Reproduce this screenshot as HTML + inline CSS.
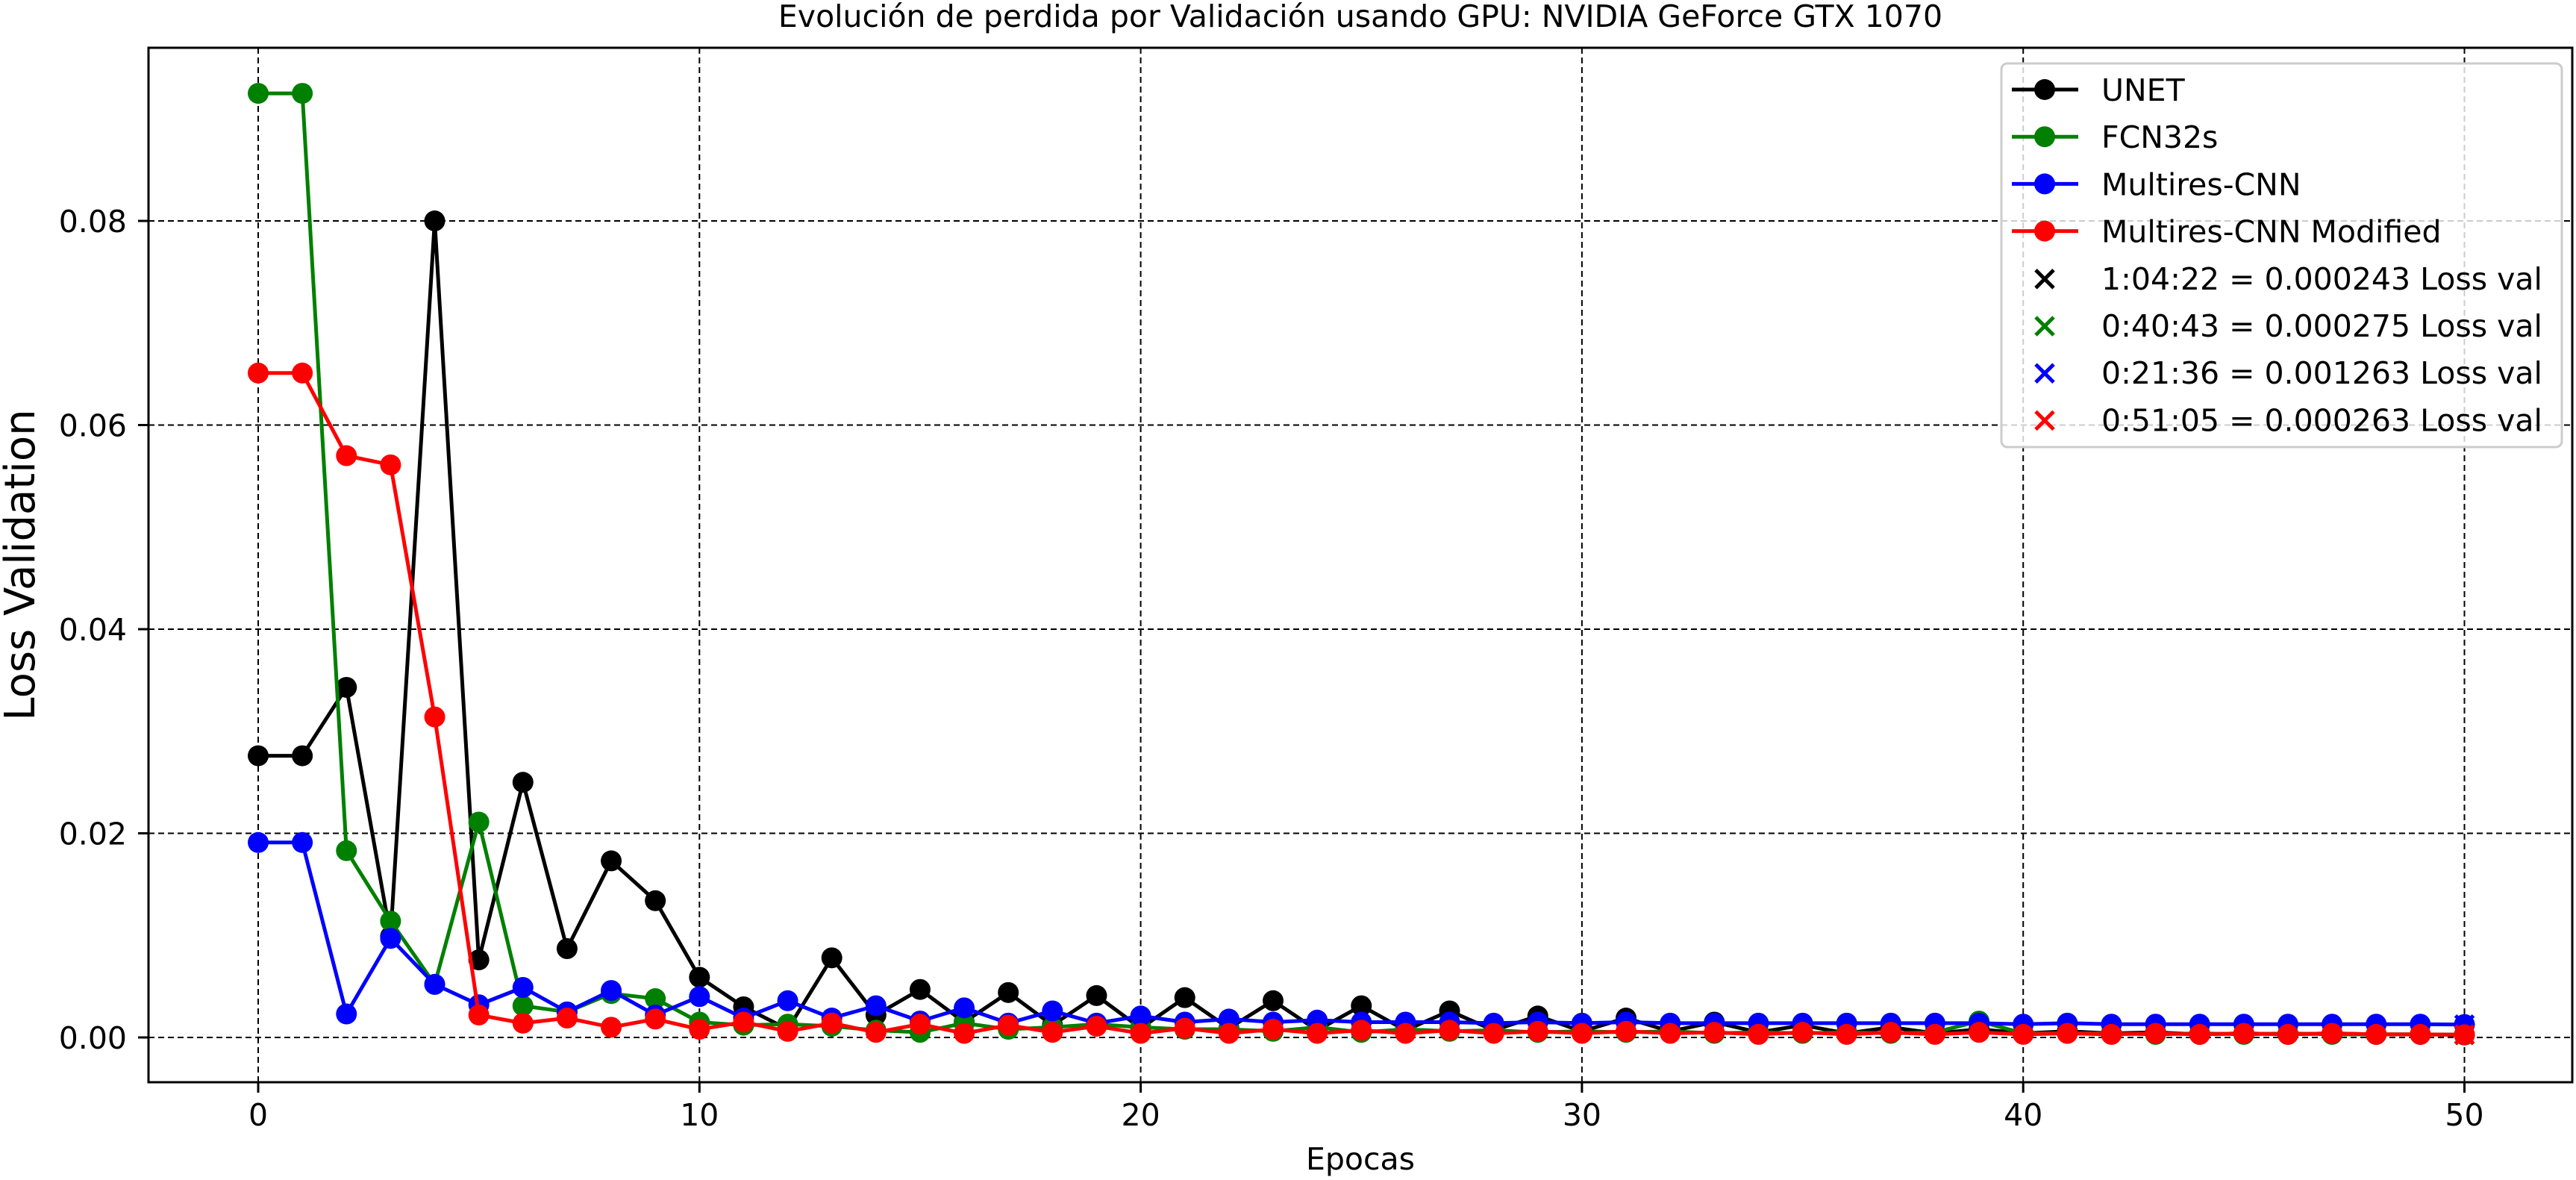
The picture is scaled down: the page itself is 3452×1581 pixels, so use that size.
<!DOCTYPE html>
<html><head><meta charset="utf-8"><style>
html,body{margin:0;padding:0;background:#fff;}
svg{display:block;font-family:"DejaVu Sans","Liberation Sans",sans-serif;}
</style></head><body>
<svg id="chart" width="3452" height="1581" viewBox="0 0 3452 1581" xmlns="http://www.w3.org/2000/svg">
<rect x="0" y="0" width="3452" height="1581" fill="#fff"/>
<text x="1823" y="36" font-size="41" text-anchor="middle">Evolución de perdida por Validación usando GPU: NVIDIA GeForce GTX 1070</text>
<g id="grid"></g><g id="series"></g>
<rect x="199" y="64" width="3248" height="1386" fill="none" stroke="#000" stroke-width="3"/>
<g id="ticks"></g>
<text x="1823" y="1567" font-size="41" text-anchor="middle">Epocas</text>
<text transform="translate(46,757) rotate(-90)" font-size="56" text-anchor="middle">Loss Validation</text>
<g id="legend"></g>
</svg>
<script>
const epochs = Array.from({length:51},(_,i)=>i);
const unet = [0.0276,0.0276,0.0343,0.0099,0.0800,0.0076,0.0250,0.0087,0.0173,0.0134,0.0059,0.0030,0.0008,0.0078,0.0022,0.0047,0.0015,0.0044,0.0012,0.0041,0.0009,0.0039,0.0009,0.0036,0.0007,0.0031,0.0007,0.0026,0.0007,0.0021,0.0006,0.0019,0.0006,0.0015,0.0005,0.0012,0.0004,0.0010,0.0004,0.0008,0.0004,0.0006,0.0004,0.0005,0.0003,0.0004,0.0003,0.0004,0.0003,0.0003,0.000243];
const fcn = [0.0925,0.0925,0.0183,0.0114,0.0052,0.0211,0.0031,0.0025,0.0043,0.0038,0.0015,0.0012,0.0013,0.0011,0.0007,0.0005,0.0014,0.0008,0.0010,0.0013,0.0010,0.0008,0.0008,0.0006,0.0010,0.0005,0.0008,0.0006,0.0007,0.0005,0.0006,0.0005,0.0006,0.0004,0.0005,0.0004,0.0005,0.0004,0.0005,0.0016,0.0004,0.0004,0.0004,0.0003,0.0004,0.0003,0.0004,0.0003,0.0003,0.0003,0.000275];
const multires = [0.0191,0.0191,0.0023,0.0097,0.0052,0.0032,0.0049,0.0025,0.0046,0.0022,0.0040,0.0019,0.0036,0.0019,0.0031,0.0016,0.0029,0.0014,0.0026,0.0014,0.0021,0.0015,0.0018,0.0015,0.0017,0.0015,0.0015,0.0015,0.0014,0.0015,0.0014,0.0015,0.0014,0.0014,0.0014,0.0014,0.0014,0.0014,0.0014,0.0014,0.0013,0.0014,0.0013,0.0013,0.0013,0.0013,0.0013,0.0013,0.0013,0.0013,0.001263];
const multiresMod = [0.0651,0.0651,0.0570,0.0561,0.0314,0.0022,0.0014,0.0019,0.0010,0.0018,0.0008,0.0015,0.0006,0.0014,0.0005,0.0013,0.0004,0.0012,0.0005,0.0011,0.0004,0.0009,0.0004,0.0008,0.0004,0.0007,0.0004,0.0007,0.0004,0.0006,0.0004,0.0006,0.0004,0.0005,0.0003,0.0005,0.0003,0.0005,0.0003,0.0005,0.0003,0.0004,0.0003,0.0004,0.0003,0.0004,0.0003,0.0004,0.0003,0.0003,0.000263];
const xTicks = [0,10,20,30,40,50];
const yTicks = [0,0.02,0.04,0.06,0.08];
const yTickLabels = ["0.00","0.02","0.04","0.06","0.08"];
const legendLabels = ["UNET","FCN32s","Multires-CNN","Multires-CNN Modified","1:04:22 = 0.000243 Loss val","0:40:43 = 0.000275 Loss val","0:21:36 = 0.001263 Loss val","0:51:05 = 0.000263 Loss val"];

const NS="http://www.w3.org/2000/svg";
const X0=199,X1=3447,Y0=64,Y1=1450;
const xs=v=>346+v*59.13;
const ys=v=>1390-v*13675;
function mk(tag,attrs,parent){const e=document.createElementNS(NS,tag);for(const k in attrs)e.setAttribute(k,attrs[k]);parent.appendChild(e);return e;}
const grid=document.getElementById('grid'),ticks=document.getElementById('ticks'),ser=document.getElementById('series'),leg=document.getElementById('legend');
xTicks.forEach(t=>{const x=xs(t);
 let g=mk('line',{x1:x,x2:x,y1:Y0,y2:Y1,stroke:'#000','stroke-width':2,'stroke-dasharray':'8,5'},grid);
 
 let k=mk('line',{x1:x,x2:x,y1:Y1,y2:Y1+14,stroke:'#000','stroke-width':3},ticks);
 
 let l=mk('text',{x:x,y:1508,'font-size':41,'text-anchor':'middle'},ticks);l.textContent=t;
 });
yTicks.forEach((t,i)=>{const y=ys(t);
 let g=mk('line',{x1:X0,x2:X1,y1:y,y2:y,stroke:'#000','stroke-width':2,'stroke-dasharray':'8,5'},grid);
 
 let k=mk('line',{x1:X0-14,x2:X0,y1:y,y2:y,stroke:'#000','stroke-width':3},ticks);
 
 let l=mk('text',{x:170,y:y+15,'font-size':41,'text-anchor':'end'},ticks);l.textContent=yTickLabels[i];
 });
const seriesList=[[unet,'#000','unet'],[fcn,'#008000','fcn32s'],[multires,'#0000ff','multires-cnn'],[multiresMod,'#ff0000','multires-cnn-modified']];
seriesList.forEach(([d,c,n])=>{
 const g=mk('g',{},ser);
 const pl=mk('polyline',{points:d.map((v,i)=>xs(epochs[i])+','+ys(v)).join(' '),fill:'none',stroke:c,'stroke-width':5,'stroke-linejoin':'round'},g);
 
 d.forEach((v,i)=>{const m=mk('circle',{cx:xs(epochs[i]),cy:ys(v),r:14,fill:c},g);
  });
 const last=d[d.length-1];
 const x=xs(epochs[d.length-1]),y=ys(last);
 const cx=mk('path',{d:`M${x-12},${y-12}L${x+12},${y+12}M${x-12},${y+12}L${x+12},${y-12}`,stroke:c,'stroke-width':5},g);
 
});
const box=mk('rect',{x:2682,y:85,width:751,height:514,rx:8,fill:'#fff','fill-opacity':0.8,stroke:'#ccc','stroke-width':3},leg);

const colors=['#000','#008000','#0000ff','#ff0000'];
legendLabels.forEach((lab,i)=>{const y=120+i*63.2;const c=colors[i%4];
 const g=mk('g',{},leg);
 if(i<4){mk('line',{x1:2696,x2:2785,y1:y,y2:y,stroke:c,'stroke-width':5},g);mk('circle',{cx:2740,cy:y,r:14,fill:c},g);}
 else{mk('path',{d:`M2728,${y-11}L2752,${y+13}M2728,${y+13}L2752,${y-11}`,stroke:c,'stroke-width':5},g);}
 const t=mk('text',{x:2816,y:y+15,'font-size':41},g);t.textContent=lab;
});
</script>
</body></html>
